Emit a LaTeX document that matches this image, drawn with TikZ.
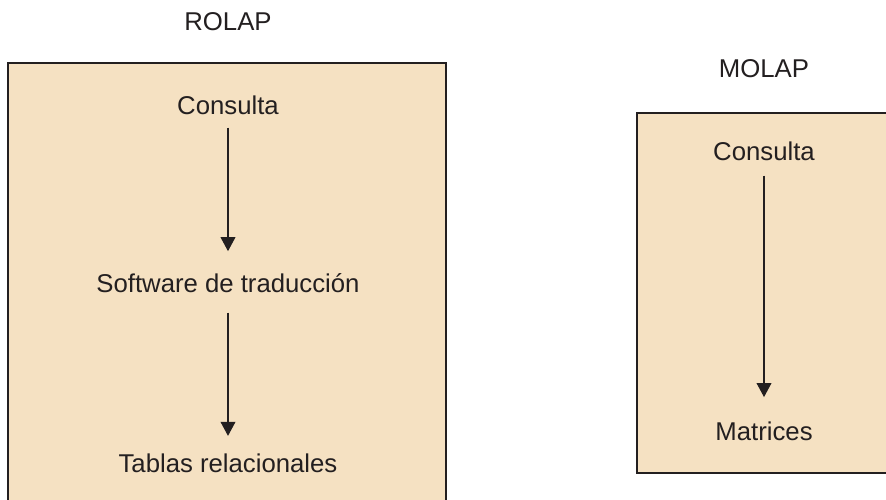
\documentclass[tikz,border=0pt]{standalone}
\usepackage{fontspec}
\setmainfont{Liberation Sans}
\usetikzlibrary{arrows.meta}
\definecolor{panelfill}{HTML}{F5E1C2}
\definecolor{ink}{HTML}{231F20}
\tikzset{
  label/.style={font=\fontsize{18.3}{21}\selectfont, text=ink, inner sep=0pt, anchor=base},
  panel/.style={draw=ink, line width=1.4pt, fill=panelfill},
  flow/.style={draw=ink, line width=0.75pt, -{Triangle[length=0.35cm,width=0.37cm]}}
}
\begin{document}
\begin{tikzpicture}[x=0.025cm, y=-0.025cm]
\useasboundingbox (0,0) rectangle (886,499);
\clip (0,0) rectangle (886,499);
\fill[white] (0,0) rectangle (886,499);
% ROLAP
\draw[panel] (8,63) rectangle (446,530);
\node[label] (rolap) at (228,31) {ROLAP};
\node[label] (consulta1) at (228,114) {Consulta};
\node[label] (software) at (228,292) {Software de traducción};
\node[label] (tablas) at (228,472) {Tablas relacionales};
\draw[flow, shorten <=0.33cm, shorten >=0.54cm] (consulta1.south) -- (software.north);
\draw[flow, shorten <=0.5cm, shorten >=0.43cm] (software.south) -- (tablas.north);
% MOLAP
\draw[panel] (637,113) rectangle (910,473);
\node[label] (molap) at (764,78) {MOLAP};
\node[label] (consulta2) at (764,160) {Consulta};
\node[label] (matrices) at (764,440) {Matrices};
\draw[flow, shorten <=0.38cm, shorten >=0.6cm] (consulta2.south) -- (matrices.north);
\end{tikzpicture}
\end{document}
